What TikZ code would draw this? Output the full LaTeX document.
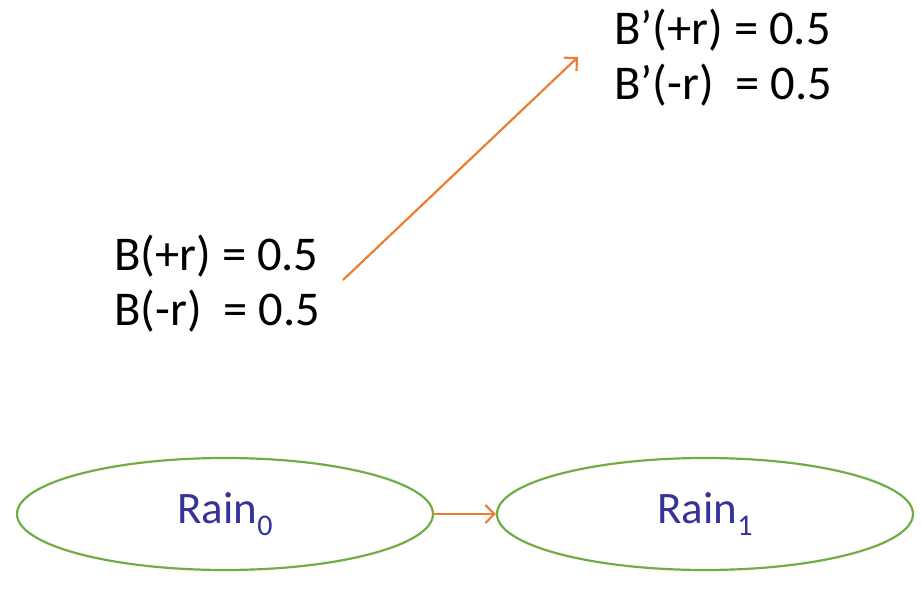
\documentclass[tikz,border=0pt]{standalone}
\usepackage{fontspec}
\setmainfont{Carlito}
\usetikzlibrary{shapes.geometric,arrows.meta}
\definecolor{accorange}{RGB}{237,125,49}
\definecolor{accgreen}{RGB}{112,173,71}
\definecolor{raintext}{RGB}{51,51,153}
\newcommand{\mysub}[1]{\raisebox{-0.27em}{\fontsize{30}{30}\selectfont #1}}
\tikzset{
  belief/.style={anchor=base west, inner sep=0pt, font=\fontsize{48.5}{55}\selectfont},
  rainnode/.style={ellipse, draw=accgreen, line width=2.2pt, minimum width=416pt, minimum height=112pt, inner sep=0pt, text=raintext, font=\fontsize{45}{50}\selectfont},
  orangearrow/.style={draw=accorange, line width=2.2pt, -{Straight Barb[length=9pt,width=18pt,line width=2.2pt]}}
}
\begin{document}
\begin{tikzpicture}[x=1pt,y=-1pt]
\useasboundingbox (0,0) rectangle (922,599);
\node[belief] (b1) at (114,270) {B(+r) = 0.5};
\node[belief] (b2) at (114,325) {B(-r)\ \ = 0.5};
\node[belief] (c1) at (614,45) {B’(+r) = 0.5};
\node[belief] (c2) at (614,100) {B’(-r)\ \ = 0.5};
\node[rainnode] (r0) at (225,514) {Rain\mysub{0}};
\node[rainnode] (r1) at (705,514) {Rain\mysub{1}};
\coordinate (s) at (343,280);
\coordinate (e) at (578,57);
\draw[orangearrow] (s) -- (e);
\draw[orangearrow] (r0) -- (r1);
\end{tikzpicture}
\end{document}
